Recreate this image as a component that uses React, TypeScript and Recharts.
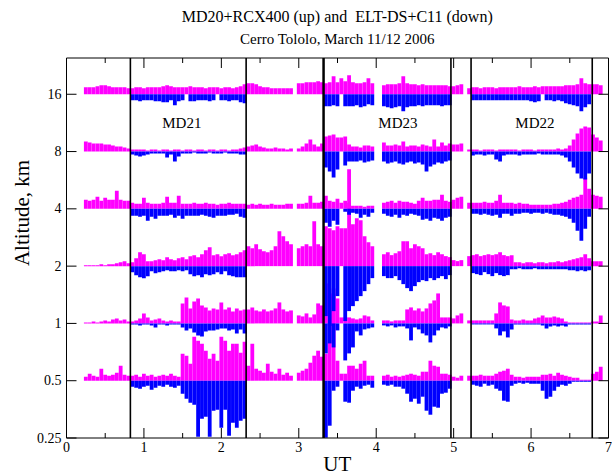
import React from 'react';
import { ComposedChart, Bar, XAxis, YAxis, ReferenceLine, ReferenceDot } from 'recharts';

const FONT = '"Liberation Serif", "Times New Roman", serif';
const MAGENTA = '#ff00ff';
const BLUE = '#0000ff';

// time grid: first sample and sampling step (UT hours)
const T_START = 0.25;
const T_STEP = 0.05;
// bar heights are given in 1/57 of a factor-of-two in altitude
const UNITS_PER_OCTAVE = 57.3;

const _ = null;

// ---- up bars (MD20+RCX400), one value per sample ----
const M16 = [
  7, 7, 7, 8, 9, 9, 8, 7, 7, 7,
  7, 6, 6, 7, 7, 6, 7, 7, 7, 7,
  8, 9, 8, 7, 7, 7, 7, 8, 7, 7,
  7, 6, 7, 7, 7, 6, 7, 7, 6, 7,
  8, 10, 11, 11, 10, 8, 7, 7, 6, 6,
  6, 6, 6, 6, _, 11, 11, 12, 12, 12,
  13, 12, 11, 12, 18, 12, 16, 13, 19, 12,
  11, 11, 12, 16, 11, _, _, 9, 10, 10,
  10, 11, 18, 11, 10, 10, 9, 10, 9, 9,
  9, 9, 9, 9, 8, 8, 9, 10, _, 6,
  7, 7, 6, 7, 7, 7, 6, 7, 7, 7,
  7, 7, 8, 7, 7, 7, 8, 7, 8, 8,
  8, 8, 8, 8, 9, 9, 9, 10, 16, 11,
  10, 10, 10, 9,
];
const M8 = [
  10, 9, 8, 8, 8, 7, 7, 6, 5, 5,
  4, 3, 2, 2, 2, 2, 1, 2, 2, 1,
  2, 2, 1, 2, 2, 1, 2, 2, 1, 2,
  2, 1, 2, 2, 1, 2, 2, 1, 2, 2,
  3, 4, 5, 6, 7, 5, 4, 3, 3, 4,
  3, 3, 2, 3, _, 3, 5, 8, 12, 7,
  5, 8, 15, 16, 17, 14, 14, 15, 7, 5,
  5, 4, 6, 6, 5, _, _, 9, 6, 6,
  7, 6, 10, 5, 6, 6, 5, 7, 6, 5,
  12, 5, 9, 6, 8, 7, 7, 8, _, 2,
  2, 2, 1, 2, 2, 2, 1, 2, 2, 2,
  2, 2, 1, 2, 2, 2, 1, 2, 2, 2,
  2, 2, 3, 2, 3, 6, 12, 18, 23, 25,
  24, 17, 14, 11,
];
const M4 = [
  9, 8, 9, 12, 8, 11, 9, 9, 18, 9,
  8, 8, 6, 5, 5, 11, 6, 5, 5, 5,
  6, 12, 6, 6, 13, 5, 5, 5, 6, 5,
  5, 6, 5, 5, 4, 5, 5, 6, 5, 5,
  5, 5, 4, 5, 4, 5, 4, 4, 5, 4,
  4, 4, 5, 5, _, 5, 5, 6, 13, 6,
  6, 7, 13, 8, 7, 10, 6, 8, 6, 3,
  3, 3, 2, 3, 3, _, _, 6, 7, 8,
  6, 8, 7, 7, 6, 5, 8, 11, 8, 8,
  9, 9, 14, 8, 7, 9, 11, 12, _, 6,
  6, 6, 6, 7, 6, 6, 8, 14, 6, 6,
  6, 5, 6, 5, 5, 4, 4, 4, 4, 4,
  4, 5, 5, 6, 7, 9, 11, 12, 14, 31,
  20, 14, 13, 12,
];
const M2 = [
  1, 1, 1, 1, 2, 1, 2, 2, 3, 4,
  5, 3, 4, 8, 14, 12, 5, 5, 6, 7,
  6, 9, 7, 6, 8, 9, 7, 10, 11, 9,
  12, 16, 19, 11, 12, 10, 12, 13, 11, 12,
  14, 16, 20, 18, 22, 17, 15, 14, 16, 20,
  35, 30, 25, 22, _, 18, 20, 22, 20, 45,
  22, 20, 40, 38, 36, 40, 38, 38, 97, 42,
  48, 46, 30, 24, 20, _, _, 12, 14, 11,
  13, 15, 25, 25, 18, 22, 20, 18, 12, 13,
  11, 14, 12, 10, 9, 6, 5, 6, _, 10,
  11, 12, 10, 11, 12, 11, 12, 14, 11, 10,
  11, 4, 4, 3, 4, 4, 3, 4, 4, 3,
  4, 4, 5, 4, 5, 6, 7, 8, 9, 12,
  8, 5, 5, 5,
];
const M1 = [
  1, 1, 2, 1, 2, 3, 2, 4, 5, 3,
  4, 2, 2, 3, 5, 10, 6, 3, 4, 5,
  3, 2, 3, 2, 2, 20, 26, 15, 22, 25,
  18, 16, 13, 15, 14, 21, 14, 16, 12, 15,
  13, 14, 14, 16, 13, 12, 14, 12, 13, 15,
  21, 14, 12, 13, _, 8, 7, 10, 6, 9,
  20, 18, 40, 30, 35, 25, 6, 6, 6, 5,
  4, 5, 8, 7, 3, _, _, 3, 3, 2,
  3, 3, 3, 14, 16, 13, 15, 12, 15, 20,
  23, 30, 6, 6, 6, 5, 8, 10, _, 3,
  3, 3, 3, 3, 3, 3, 10, 21, 18, 17,
  4, 3, 3, 4, 3, 3, 5, 6, 8, 6,
  6, 7, 6, 5, 2, 1, 1, 1, 1, 1,
  1, 2, 2, 8,
];
const M05 = [
  4, 7, 5, 4, 12, 6, 5, 6, 8, 15,
  6, 5, 5, 6, 4, 7, 5, 6, 4, 5,
  6, 5, 7, 5, 4, 27, 25, 17, 44, 40,
  37, 30, 22, 27, 20, 44, 40, 30, 37, 37,
  28, 39, 15, 37, 12, 10, 8, 17, 9, 7,
  12, 6, 8, 5, _, 8, 10, 12, 18, 25,
  30, 24, 27, 85, 87, 20, 7, 7, 15, 15,
  12, 17, 20, 5, 5, _, _, 5, 6, 4,
  5, 4, 5, 6, 7, 6, 5, 9, 9, 20,
  15, 14, 7, 7, 6, 4, 3, 5, _, 5,
  5, 5, 6, 5, 5, 5, 7, 9, 10, 12,
  6, 4, 4, 3, 4, 4, 4, 4, 6, 6,
  7, 5, 8, 6, 5, 4, 3, 3, 1, 1,
  1, 7, 9, 14,
];

// ---- down bars (ELT-DS+C11) ----
const B16 = [
  _, _, _, _, _, _, _, _, _, _,
  _, _, 6, 6, 7, 6, 6, 6, 7, 7,
  8, 8, 6, 11, 7, 6, _, 7, 7, 6,
  6, 6, 7, 6, _, 6, 6, 7, 6, 6,
  8, 9, _, _, _, _, _, _, _, _,
  _, _, _, _, _, _, _, _, _, _,
  _, _, 12, 12, 11, 12, _, 12, 12, 12,
  11, 13, 12, 10, 11, _, _, 12, 13, 14,
  13, 12, 17, 13, 12, 12, 11, 12, 11, 11,
  11, 11, 12, 11, 11, _, _, _, _, _,
  6, 6, 6, 6, 6, 6, 6, 6, 6, 6,
  6, 6, 6, 6, 6, 7, 8, 7, _, 6,
  6, 7, 6, 7, 9, 10, 11, 12, 17, 13,
  10, _, _, _,
];
const B8 = [
  _, _, _, _, _, _, _, _, _, _,
  _, _, 3, 4, 5, 4, 3, 2, 2, 2,
  2, 6, 3, 10, 5, 2, 2, 2, 1, 2,
  2, 2, 1, 2, 2, 2, 1, 2, 2, 2,
  3, 3, _, _, _, _, _, _, _, _,
  _, _, _, _, _, _, _, _, _, _,
  _, _, 16, 20, 26, 18, _, 14, 10, 10,
  10, 9, 11, 10, 9, _, _, 10, 12, 11,
  10, 12, 13, 11, 10, 12, 11, 13, 20, 15,
  13, 11, 12, 10, 9, _, _, _, _, _,
  4, 3, 3, 4, 3, 3, 8, 10, 4, 3,
  3, 3, 4, 3, 3, 3, 3, 2, 3, 3,
  3, 3, 3, 4, 6, 10, 16, 22, 27, 28,
  22, _, _, _,
];
const B4 = [
  _, _, _, _, _, _, _, _, _, _,
  _, _, 7, 7, 8, 7, 12, 8, 10, 7,
  7, 7, 6, 9, 7, 10, 7, 7, 7, 7,
  6, 7, 8, 9, 7, 7, 7, 6, 6, 5,
  8, 9, _, _, _, _, _, _, _, _,
  _, _, _, _, _, _, _, _, _, _,
  _, _, 14, 18, 12, 16, _, 3, 6, 4,
  5, 9, 6, 8, 4, _, _, 5, 7, 8,
  6, 9, 6, 7, 5, 6, 7, 11, 10, 12,
  9, 10, 12, 9, 8, _, _, _, _, _,
  5, 5, 6, 5, 6, 7, 6, 9, 5, 5,
  7, 5, 5, 4, 4, 5, 4, 4, 5, 4,
  5, 6, 6, 7, 8, 10, 14, 22, 32, 20,
  8, _, _, _,
];
const B2 = [
  _, _, _, _, _, _, _, _, _, _,
  _, _, 6, 9, 11, 12, 10, 5, 7, 6,
  5, 4, 5, 5, 4, 5, 4, 8, 10, 9,
  11, 8, 9, 8, 6, 8, 5, 9, 10, 11,
  11, 11, _, _, _, _, _, _, _, _,
  _, _, _, _, _, _, _, _, _, _,
  _, _, 50, 60, 45, 30, _, 55, 45, 40,
  35, 30, 25, 18, 12, _, _, 10, 12, 12,
  10, 14, 18, 22, 25, 20, 16, 14, 15, 12,
  14, 12, 10, 13, 9, _, _, _, _, _,
  7, 8, 9, 6, 8, 10, 7, 9, 10, 9,
  3, 3, 2, 3, 3, 3, 2, 3, 3, 3,
  3, 3, 3, 3, 3, 4, 4, 5, 4, 5,
  4, _, _, _,
];
const B1 = [
  _, _, _, _, _, _, _, _, _, _,
  _, _, 1, 1, 2, 1, 1, 2, 4, 1,
  1, 2, 1, 1, 1, 4, 7, 5, 9, 12,
  13, 8, 7, 7, 6, 5, 5, 7, 6, 10,
  6, 10, _, _, _, _, _, _, _, _,
  _, _, _, _, _, _, _, _, _, _,
  _, _, 30, 20, 24, 7, _, 37, 30, 24,
  8, 12, 6, 5, 4, _, _, 2, 3, 2,
  4, 3, 3, 5, 17, 4, 6, 10, 12, 19,
  12, 7, 4, 5, 3, _, _, _, _, _,
  1, 1, 1, 1, 1, 1, 5, 12, 8, 14,
  6, 1, 1, 1, 1, 1, 1, 1, 2, 5,
  3, 2, 3, 2, 3, 1, 1, 1, 1, 1,
  1, _, _, _,
];
const B05 = [
  _, _, _, _, _, _, _, _, _, _,
  _, _, 6, 7, 8, 6, 5, 9, 7, 5,
  6, 4, 6, 7, 5, 13, 18, 22, 24, 56,
  38, 36, 56, 30, 29, 47, 29, 55, 42, 47,
  40, 38, _, _, _, _, _, _, _, _,
  _, _, _, _, _, _, _, _, _, _,
  _, _, 57, 45, 10, 6, _, 21, 22, 10,
  6, 8, 5, 4, 7, _, _, 4, 5, 4,
  6, 6, 8, 13, 21, 18, 23, 16, 30, 34,
  26, 27, 13, 12, 8, _, _, _, _, _,
  4, 5, 6, 3, 5, 4, 8, 10, 20, 21,
  5, 3, 2, 3, 2, 3, 3, 3, 10, 18,
  16, 10, 6, 4, 5, 3, 1, 1, 1, 1,
  1, _, _, _,
];

const LEVELS = [16, 8, 4, 2, 1, 0.5];
const UP = [M16, M8, M4, M2, M1, M05];
const DOWN = [B16, B8, B4, B2, B1, B05];

const X_TICKS = [0, 0.5, 1, 1.5, 2, 2.5, 3, 3.5, 4, 4.5, 5, 5.5, 6, 6.5, 7];
const Y_TICKS = [-2, -1, 0, 1, 2, 3, 4];
const Y_LABELS = ['0.25', '0.5', '1', '2', '4', '8', '16'];
const Y_TOP = 4.633;

// boundaries between the three observing sessions
const SESSION_EDGES = [0.825, 2.32, 3.32, 4.965, 5.225, 6.79];
const SESSION_NAMES = [
  { name: 'MD21', t: 1.49 },
  { name: 'MD23', t: 4.28 },
  { name: 'MD22', t: 6.05 },
];

const data = M16.map((_v, i) => {
  const row: any = { t: +(T_START + i * T_STEP).toFixed(2) };
  LEVELS.forEach((lv, k) => {
    const base = Math.log2(lv);
    const up = UP[k][i];
    const down = DOWN[k][i];
    row['u' + k] = up == null ? null : [base, base + up / UNITS_PER_OCTAVE];
    row['d' + k] = down == null ? null : [base - down / UNITS_PER_OCTAVE, base];
  });
  return row;
});

const BottomTick = ({ x, y, payload }: any) => {
  const major = Number.isInteger(payload.value);
  return (
    <g>
      <line x1={x} y1={y} x2={x} y2={y - (major ? 10 : 5)} stroke="#000" />
      {major && (
        <text x={x} y={y + 14} textAnchor="middle" fontSize={14} fontFamily={FONT} fill="#000">
          {payload.value}
        </text>
      )}
    </g>
  );
};

const TopTick = ({ x, y, payload }: any) => {
  const major = Number.isInteger(payload.value);
  return <line x1={x} y1={y} x2={x} y2={y + (major ? 10 : 5)} stroke="#000" />;
};

const LeftTick = ({ x, y, payload }: any) => (
  <g>
    <line x1={x} y1={y} x2={x + 10} y2={y} stroke="#000" />
    <text x={x - 5} y={y + 4.5} textAnchor="end" fontSize={14} fontFamily={FONT} fill="#000">
      {Y_LABELS[Y_TICKS.indexOf(payload.value)]}
    </text>
  </g>
);

const RightTick = ({ x, y }: any) => <line x1={x} y1={y} x2={x - 10} y2={y} stroke="#000" />;

export default function App() {
  return (
    <div style={{ position: 'absolute', left: 0, top: 0, width: 612, height: 475, background: '#fff' }}>
      <div
        style={{
          position: 'absolute', left: 66.5, width: 541.5, top: 8.6, textAlign: 'center',
          fontFamily: FONT, fontSize: 16, lineHeight: '16px', whiteSpace: 'pre',
        }}
      >
        {'MD20+RCX400 (up) and  ELT-DS+C11 (down)'}
      </div>
      <div
        style={{
          position: 'absolute', left: 66.5, width: 541.5, top: 32.4, textAlign: 'center',
          fontFamily: FONT, fontSize: 15, lineHeight: '15px',
        }}
      >
        Cerro Tololo, March 11/12 2006
      </div>
      <ComposedChart
        width={612}
        height={475}
        data={data}
        margin={{ top: 48, right: 0, bottom: 7, left: 36.5 }}
        barGap={-3.8}
      >
        <XAxis
          dataKey="t"
          type="number"
          domain={[0, 7]}
          ticks={X_TICKS}
          interval={0}
          height={30}
          tickSize={0}
          tickMargin={0}
          tickLine={false}
          tick={<BottomTick />}
          axisLine={{ stroke: '#000' }}
          allowDataOverflow
        />
        <XAxis
          xAxisId="top"
          dataKey="t"
          orientation="top"
          type="number"
          domain={[0, 7]}
          ticks={X_TICKS}
          interval={0}
          height={10}
          tickSize={0}
          tickMargin={0}
          tickLine={false}
          tick={<TopTick />}
          axisLine={{ stroke: '#000' }}
          allowDataOverflow
        />
        <YAxis
          type="number"
          domain={[-2, Y_TOP]}
          ticks={Y_TICKS}
          interval={0}
          width={30}
          tickSize={0}
          tickMargin={0}
          tickLine={false}
          tick={<LeftTick />}
          axisLine={{ stroke: '#000' }}
          allowDataOverflow
        />
        <YAxis
          yAxisId="right"
          orientation="right"
          type="number"
          domain={[-2, Y_TOP]}
          ticks={Y_TICKS}
          interval={0}
          width={3.5}
          tickSize={0}
          tickMargin={0}
          tickLine={false}
          tick={<RightTick />}
          axisLine={{ stroke: '#000' }}
          allowDataOverflow
        />
        {LEVELS.map((lv, k) => (
          <Bar key={'u' + lv} dataKey={'u' + k} fill={MAGENTA} barSize={3.8} isAnimationActive={false} />
        ))}
        {LEVELS.map((lv, k) => (
          <Bar key={'d' + lv} dataKey={'d' + k} fill={BLUE} barSize={3.8} isAnimationActive={false} />
        ))}
        {SESSION_EDGES.map((t) => (
          <ReferenceLine key={t} x={t} stroke="#000" strokeWidth={t === 3.32 ? 2.5 : 1.6} />
        ))}
        {SESSION_NAMES.map((s) => (
          <ReferenceDot
            key={s.name}
            x={s.t}
            y={3.5}
            r={0}
            fill="none"
            stroke="none"
            label={{ value: s.name, position: 'center', fill: '#000', fontSize: 15, fontFamily: FONT }}
          />
        ))}
      </ComposedChart>
      <div
        style={{
          position: 'absolute', left: 22, top: 213, transform: 'translate(-50%, -50%) rotate(-90deg)',
          fontFamily: FONT, fontSize: 21, whiteSpace: 'nowrap', lineHeight: '21px',
        }}
      >
        Altitude, km
      </div>
      <div
        style={{
          position: 'absolute', left: 66.5, width: 541.5, top: 454, textAlign: 'center',
          fontFamily: FONT, fontSize: 21, lineHeight: '21px',
        }}
      >
        UT
      </div>
    </div>
  );
}
